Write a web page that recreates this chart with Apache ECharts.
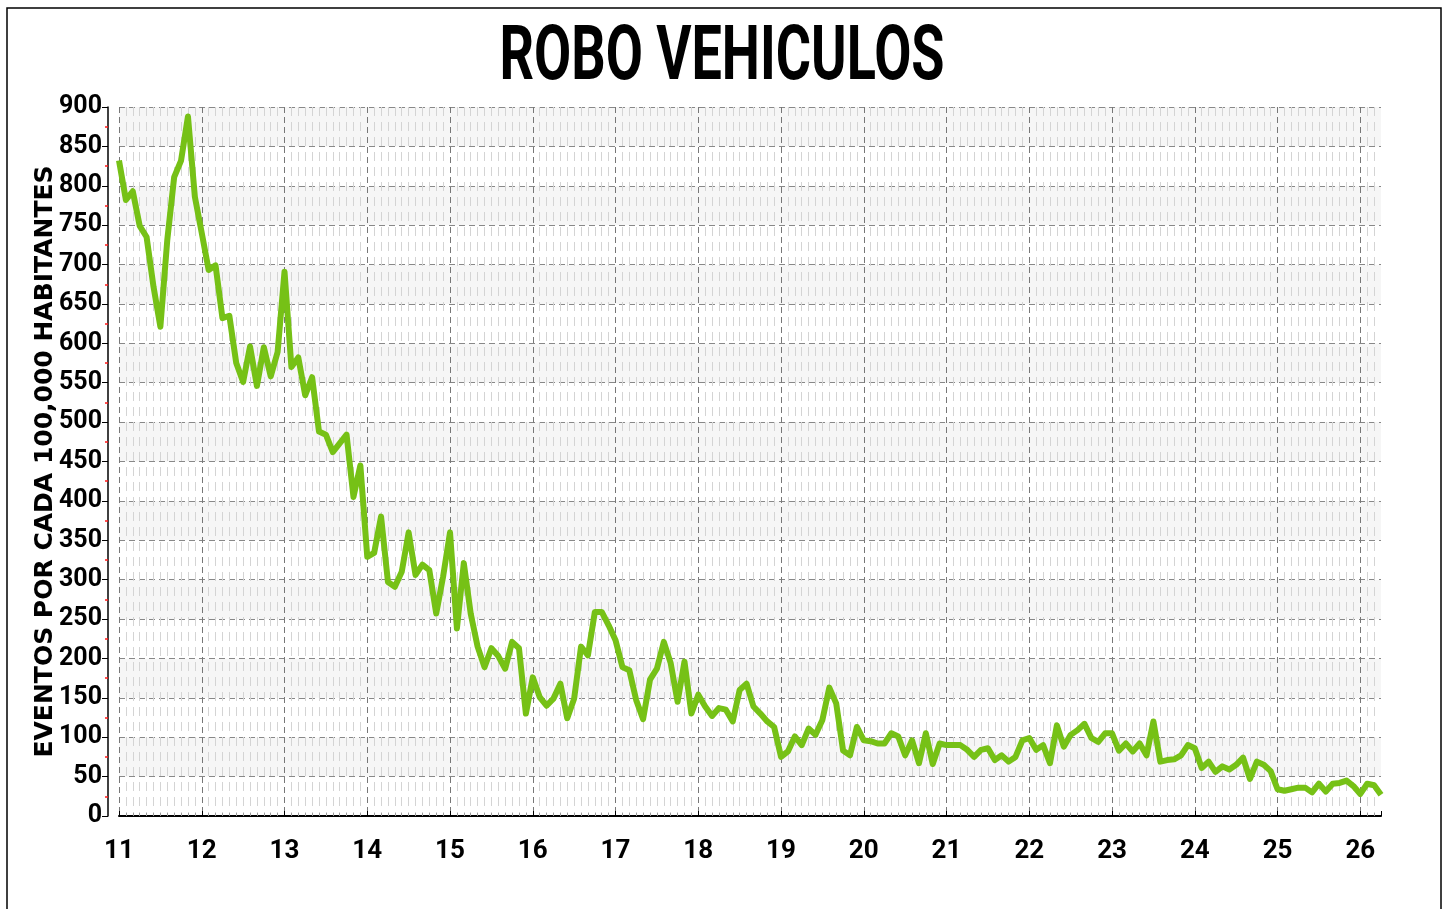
<!DOCTYPE html>
<html>
<head>
<meta charset="utf-8">
<title>Robo vehiculos</title>
<script src="https://cdn.jsdelivr.net/npm/echarts@6/dist/echarts.min.js"></script>
<style>
  html, body { margin: 0; padding: 0; background: #fff; }
  #chart { width: 1449px; height: 909px; }
</style>
</head>
<body>
<div id="chart"></div>
<script>
// eventos por cada 100,000 habitantes, mensual desde enero 2011
const startYear = 2011
const y2011 = [832, 782, 793, 749, 735, 672, 621, 731, 811, 832, 888, 786]
const y2012 = [740, 693, 699, 632, 635, 575, 551, 596, 546, 595, 558, 589]
const y2013 = [691, 570, 582, 534, 557, 488, 484, 462, 473, 484, 405, 445]
const y2014 = [329, 334, 380, 297, 291, 310, 360, 306, 319, 312, 257, 304]
const y2015 = [360, 238, 321, 257, 215, 189, 213, 203, 187, 221, 213, 130]
const y2016 = [176, 151, 140, 149, 168, 124, 149, 215, 204, 259, 259, 242]
const y2017 = [223, 189, 185, 147, 123, 173, 187, 221, 194, 145, 196, 130]
const y2018 = [154, 139, 127, 137, 135, 120, 160, 168, 139, 130, 120, 113]
const y2019 = [75, 82, 101, 90, 111, 103, 122, 163, 143, 83, 77, 113]
const y2020 = [96, 95, 92, 92, 105, 101, 77, 96, 67, 105, 66, 92]
const y2021 = [90, 90, 90, 84, 75, 84, 86, 71, 77, 69, 75, 96]
const y2022 = [99, 84, 90, 67, 115, 88, 103, 109, 117, 99, 94, 105]
const y2023 = [105, 83, 92, 82, 92, 77, 120, 69, 71, 72, 77, 90]
const y2024 = [86, 61, 69, 56, 63, 59, 65, 74, 47, 69, 65, 57]
const y2025 = [34, 32, 34, 36, 36, 30, 41, 31, 41, 42, 45, 38]
const y2026 = [28, 41, 39, 27]

const monthly = [].concat(y2011, y2012, y2013, y2014, y2015, y2016, y2017, y2018,
  y2019, y2020, y2021, y2022, y2023, y2024, y2025, y2026)

const labelFont = 'Roboto, sans-serif'

const chart = echarts.init(document.getElementById('chart'))

// x = año decimal
const points = monthly.map((v, i) => [startYear + i / 12, v])

chart.setOption({
  backgroundColor: '#fff',
  animation: false,
  graphic: [
    {
      type: 'rect',
      shape: { x: 7, y: 8, width: 1434, height: 930 },
      style: { fill: 'none', stroke: '#000', lineWidth: 1.5 },
      silent: true
    },
    {
      type: 'text',
      x: 722,
      y: 60,
      scaleX: 0.71,
      style: {
        text: 'ROBO VEHICULOS',
        font: "bold 76px Roboto, sans-serif",
        fill: '#000',
        align: 'center',
        verticalAlign: 'middle'
      }
    }
  ],
  grid: { left: 119, right: 68, top: 107, bottom: 93 },
  xAxis: {
    type: 'value',
    min: startYear,
    max: startYear + (monthly.length - 1) / 12,
    interval: 1,
    offset: 14,
    axisLine: { show: true, lineStyle: { color: '#000', width: 2 } },
    axisTick: { show: true, inside: true, length: 5, lineStyle: { color: '#000', width: 1 } },
    minorTick: { show: true, splitNumber: 12, length: 3, lineStyle: { color: '#999' } },
    axisLabel: {
      margin: 8,
      fontFamily: labelFont,
      fontWeight: 'bold',
      fontSize: 26,
      color: '#000',
      formatter: v => (Number.isInteger(Math.round(v * 1000) / 1000) ? String(Math.round(v) - 2000) : ''),
      showMaxLabel: false
    },
    splitLine: {
      show: true,
      showMaxLine: false,
      lineStyle: { color: '#777', type: [6, 4], width: 1 }
    },
    minorSplitLine: {
      show: true,
      lineStyle: { color: '#d4d4d4', type: [9, 6], width: 1 }
    }
  },
  yAxis: {
    type: 'value',
    min: 0,
    max: 900,
    interval: 50,
    offset: 11,
    name: 'EVENTOS POR CADA 100,000 HABITANTES',
    nameLocation: 'middle',
    nameGap: 50,
    nameMoveOverlap: false,
    nameTextStyle: {
      fontFamily: "'DejaVu Sans', Verdana, sans-serif",
      fontWeight: 'bold',
      fontSize: 25,
      color: '#000'
    },
    axisLine: { show: true, lineStyle: { color: '#000', width: 1.5 } },
    axisTick: { show: true, length: 6, lineStyle: { color: '#000' } },
    minorTick: { show: true, splitNumber: 2, length: 3, lineStyle: { color: '#ff1a1a', width: 1.5 } },
    axisLabel: {
      margin: 6,
      fontFamily: labelFont,
      fontWeight: 'bold',
      fontSize: 25,
      color: '#000'
    },
    splitLine: { show: true, lineStyle: { color: '#888', type: [6, 4], width: 1 } },
    splitArea: { show: true, areaStyle: { color: ['#ffffff', '#f6f6f6'] } }
  },
  series: [{
    type: 'line',
    data: points,
    showSymbol: false,
    lineStyle: { color: '#76c116', width: 6, join: 'round' },
    z: 5
  }]
})
</script>
</body>
</html>
